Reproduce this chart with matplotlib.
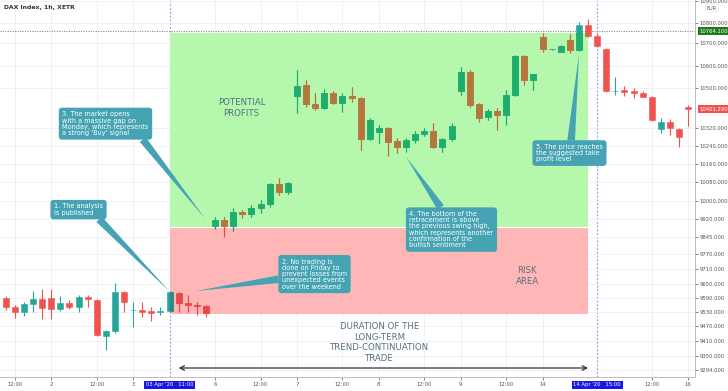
import numpy as np
import matplotlib
matplotlib.use('Agg')
import matplotlib.pyplot as plt
from matplotlib.patches import Rectangle
from matplotlib.ticker import FixedLocator, FormatStrFormatter

# DAX hourly candles, 1 Apr - 16 Apr 2020
opens = [9589, 9553, 9531, 9564, 9586, 9589, 9544, 9567, 9553, 9596,
         9581, 9431, 9450, 9616, 9537, 9539, 9533, 9529, 9536, 9613,
         9570, 9561, 9556, 9891, 9916, 9891, 9952, 9941, 9969, 9987,
         10072, 10038, 10462, 10514, 10424, 10407, 10475, 10431, 10462, 10452,
         10270, 10301, 10321, 10262, 10234, 10267, 10293, 10308, 10234, 10271,
         10487, 10574, 10423, 10368, 10394, 10378, 10467, 10643, 10536, 10730,
         10673, 10663, 10716, 10670, 10791, 10739, 10674, 10484, 10492, 10484,
         10477, 10459, 10315, 10347, 10316, 10410]
highs = [9599, 9560, 9573, 9620, 9627, 9627, 9599, 9581, 9603, 9601,
         9586, 9454, 9653, 9621, 9574, 9573, 9550, 9553, 9620, 9617,
         9603, 9574, 9560, 9930, 9929, 9968, 9960, 9982, 10005, 10075,
         10096, 10080, 10582, 10536, 10478, 10495, 10487, 10475, 10503, 10458,
         10363, 10333, 10326, 10276, 10276, 10307, 10320, 10340, 10276, 10340,
         10597, 10582, 10432, 10404, 10407, 10491, 10648, 10648, 10563, 10752,
         10676, 10691, 10748, 10805, 10818, 10752, 10678, 10550, 10509, 10500,
         10486, 10465, 10365, 10359, 10320, 10420]
lows = [9539, 9504, 9513, 9531, 9499, 9499, 9534, 9542, 9531, 9553,
        9430, 9374, 9441, 9531, 9467, 9510, 9490, 9517, 9530, 9531,
        9531, 9517, 9510, 9878, 9846, 9871, 9923, 9930, 9945, 9975,
        10025, 10031, 10385, 10412, 10397, 10401, 10423, 10389, 10436, 10222,
        10267, 10252, 10196, 10208, 10213, 10253, 10284, 10231, 10215, 10262,
        10467, 10410, 10347, 10354, 10311, 10333, 10462, 10514, 10491, 10663,
        10670, 10661, 10655, 10665, 10732, 10683, 10482, 10467, 10462, 10453,
        10458, 10350, 10299, 10290, 10237, 10329]
closes = [9553, 9531, 9563, 9584, 9546, 9542, 9567, 9553, 9596, 9584,
          9434, 9450, 9616, 9574, 9540, 9531, 9527, 9536, 9616, 9570,
          9561, 9556, 9527, 9916, 9891, 9950, 9941, 9968, 9987, 10072,
          10038, 10075, 10510, 10423, 10407, 10475, 10431, 10462, 10452, 10271,
          10354, 10321, 10259, 10234, 10267, 10293, 10308, 10234, 10271, 10331,
          10574, 10420, 10364, 10394, 10378, 10467, 10643, 10536, 10563, 10673,
          10673, 10687, 10670, 10791, 10739, 10688, 10484, 10488, 10481, 10476,
          10460, 10354, 10347, 10319, 10279, 10401]

# price labels of the axis and the screen row each one sits on (the axis is not even)
axis_prices = [9294, 9350, 9410, 9470, 9530, 9590, 9650, 9710, 9770, 9845, 9920, 10000,
               10080, 10160, 10240, 10320, 10401.29, 10500, 10600, 10700, 10764.1, 10800, 10900]
axis_rows = [370, 356, 341, 326, 312, 298, 284, 269, 254, 237, 219, 201,
             182, 164, 146, 128, 109, 88, 66, 43, 31, 23, 1]
y_ticks = [10900, 10800, 10700, 10600, 10500, 10320, 10240, 10160, 10080, 10000, 9920,
           9845, 9770, 9710, 9650, 9590, 9530, 9470, 9410, 9350, 9294]

x_ticks = [1, 5, 10, 14, 23, 28, 32, 37, 41, 46, 50, 55, 59, 71, 75]
x_labels = ['12:00', '2', '12:00', '3', '6', '12:00', '7', '12:00', '8', '12:00',
            '9', '12:00', '14', '12:00', '16']
marked_idx = [18, 65]
marked_labels = ["03 Apr '20   11:00", "14 Apr '20   15:00"]

take_profit = 10764.1
last_price = 10401.29
entry = 9888
zone_top = 10752
zone_bottom = 9521
trade_start, trade_end = 18, 64

teal = '#26a69a'
red = '#ef5350'
note_col = '#45a3b4'

ext_p = np.r_[8000, axis_prices, 12000]
ext_r = np.r_[693.5, axis_rows, -243]


def fwd(p):
    return np.interp(p, ext_p, -ext_r)


def inv(r):
    return np.interp(r, -ext_r, ext_p)


fig = plt.figure(figsize=(7.28, 3.91), dpi=100)
ax = fig.add_axes([0, 14 / 391., 695 / 728., 377 / 391.])
ax.set_yscale('function', functions=(fwd, inv))
ax.set_xlim(-0.63, 75.75)
ax.set_ylim(9266, 10905)

idx = np.arange(len(opens))
o = np.array(opens, float)
h = np.array(highs, float)
l = np.array(lows, float)
c = np.array(closes, float)
up = c >= o

# zones
green_zone = Rectangle((trade_start, entry), trade_end - trade_start, zone_top - entry,
                       fc='#b5f7ad', ec='none', zorder=0.6)
red_zone = Rectangle((trade_start, zone_bottom), trade_end - trade_start, entry - zone_bottom,
                     fc='#ffb6b6', ec='none', zorder=0.6)
ax.add_patch(green_zone)
ax.add_patch(red_zone)
ax.hlines(entry, trade_start, trade_end, color='white', lw=0.8, zorder=0.7)


def draw_candles(bull, bear, z, clip=None):
    cols = np.where(up, bull, bear)
    w = ax.vlines(idx, l, h, colors=cols, lw=0.8, zorder=z)
    bars = ax.bar(idx, np.abs(c - o), bottom=np.minimum(o, c), width=0.66,
                  color=cols, edgecolor=cols, linewidth=0.4, zorder=z)
    if clip is not None:
        w.set_clip_path(clip)
        for b in bars:
            b.set_clip_path(clip)


draw_candles(teal, red, 2)
draw_candles('#1fae6a', '#b2773c', 2.1, green_zone)
draw_candles('#2e8a80', '#ea4848', 2.1, red_zone)

# lines
ax.axhline(take_profit, color='#8a8a8a', ls=(0, (1, 1.2)), lw=0.8, zorder=1)
for m in marked_idx:
    ax.axvline(m, color='#9ea2e6', ls=(0, (1.5, 1.5)), lw=0.9, zorder=0.5)

# grid and axes
ax.yaxis.set_major_locator(FixedLocator(y_ticks))
ax.yaxis.set_major_formatter(FormatStrFormatter('%.3f'))
ax.set_xticks(x_ticks)
ax.set_xticklabels(x_labels)
ax.set_axisbelow(True)
ax.grid(True, color='#eceff4', lw=0.6)
ax.yaxis.tick_right()
ax.tick_params(axis='both', labelsize=3.8, colors='#555555', length=2, width=0.5, pad=1.5)
for s in ['top', 'left']:
    ax.spines[s].set_visible(False)
for s in ['bottom', 'right']:
    ax.spines[s].set_color('#b9bcc2')
    ax.spines[s].set_linewidth(0.7)

xt = ax.get_xaxis_transform()
for m, lab in zip(marked_idx, marked_labels):
    ax.text(m, -0.021, lab, transform=xt, ha='center', va='center', fontsize=3.8,
            color='white', clip_on=False,
            bbox=dict(boxstyle='square,pad=0.35', fc='#1717e6', ec='none'))

yt = ax.get_yaxis_transform()
ax.text(1.006, take_profit, '%.3f' % take_profit, transform=yt, ha='left', va='center',
        fontsize=3.8, color='white', clip_on=False,
        bbox=dict(boxstyle='square,pad=0.3', fc='#1f7a1f', ec='none'))
ax.text(1.006, last_price, '%.3f' % last_price, transform=yt, ha='left', va='center',
        fontsize=3.8, color='white', clip_on=False,
        bbox=dict(boxstyle='square,pad=0.3', fc=red, ec='none'))
fig.text(712 / 728., 1 - 8 / 391., 'EUR', ha='center', va='center', fontsize=3.6, color='#555555',
         bbox=dict(boxstyle='round,pad=0.3', fc='white', ec='#d8d8d8', lw=0.4))
fig.text(4 / 728., 1 - 8 / 391., 'DAX Index, 1h, XETR', ha='left', va='center',
         fontsize=4.4, color='#333333', fontweight='semibold')

# zone captions
cap = dict(ha='center', va='center', fontsize=6.2, color='#55727c', zorder=4)
ax.text(25.9, 10406, 'POTENTIAL\nPROFITS', **cap)
ax.text(57.3, 9682, 'RISK\nAREA', **cap)
ax.text(41.1, 9404, 'DURATION OF THE\nLONG-TERM\nTREND-CONTINUATION\nTRADE', **cap)

ax.annotate('', xy=(64, 9302), xytext=(19, 9302),
            arrowprops=dict(arrowstyle='<->', color='#333333', lw=0.9,
                            shrinkA=0, shrinkB=0, mutation_scale=8))

# callouts
notes = [
    ('1. The analysis\nis published', (18, 9618), (0.113, 0.444), (0.85, 0)),
    ('2. No trading is\ndone on Friday to\nprevent losses from\nunexpected events\nover the weekend',
     (20.9, 9620), (0.4525, 0.273), (0, 0.35)),
    ("3. The market opens\nwith a massive gap on\nMonday, which represents\na strong 'Buy' signal",
     (21.9, 9922), (0.1518, 0.672), (0.9, 0)),
    ('4. The bottom of the\nretracement is above\nthe previous swing high,\nwhich represents another\n'
     'confirmation of the\nbullish sentiment', (44, 10192), (0.6496, 0.391), (0.4, 1)),
    ('5. The price reaches\nthe suggested take\nprofit level', (63, 10652), (0.8194, 0.594), (0.52, 1)),
]
for txt, tip, pos, rel in notes:
    ax.annotate(txt, xy=tip, xycoords='data', xytext=pos, textcoords='axes fraction',
                ha='center', va='center', multialignment='left', fontsize=4.7,
                linespacing=1.05, color='white', zorder=5,
                bbox=dict(boxstyle='round,pad=0.55,rounding_size=0.5', fc=note_col, ec='none'),
                arrowprops=dict(arrowstyle='wedge,tail_width=0.55,shrink_factor=0.5',
                                fc=note_col, ec='none', relpos=rel, shrinkA=0, shrinkB=0,
                                mutation_scale=10))

plt.savefig('out.png', dpi=100, facecolor='white')
plt.close()
